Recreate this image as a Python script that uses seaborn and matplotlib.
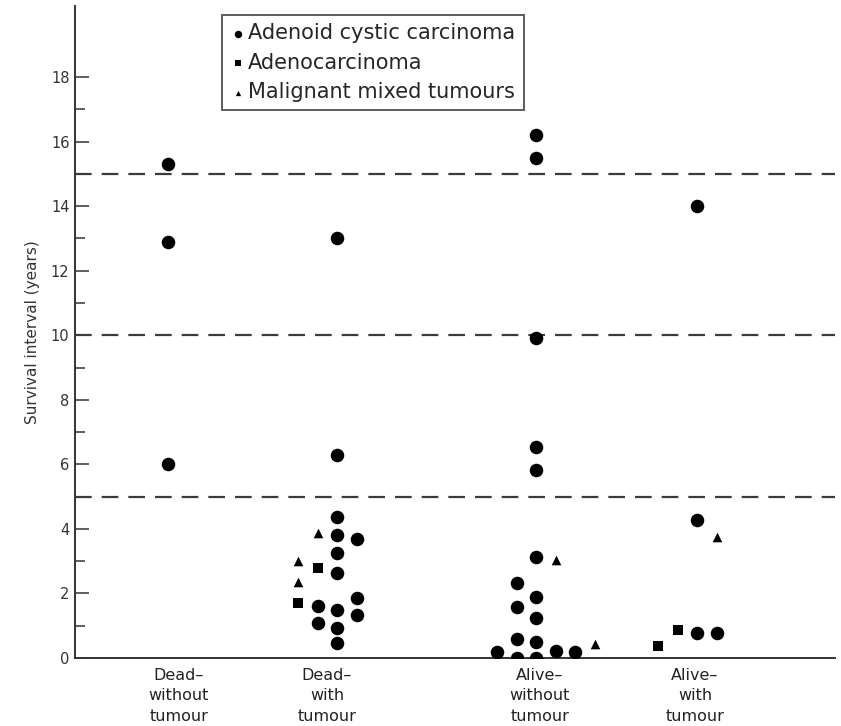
import pandas as pd
import matplotlib.pyplot as plt
import seaborn as sns

# -------------------------
# 1. Data
# -------------------------
group_labels = ["Dead\u2013\nwithout\ntumour", "Dead\u2013\nwith\ntumour",
                "Alive\u2013\nwithout\ntumour", "Alive\u2013\nwith\ntumour"]
type_names = ["Adenoid cystic carcinoma", "Adenocarcinoma", "Malignant mixed tumours"]

# one list per group: tumour type code, dot column inside the group, survival (years)
dead_without_type = ["A", "A", "A"]
dead_without_col = [0, 0, 0]
dead_without_years = [15.3, 12.9, 6.0]

dead_with_type = ["A", "A", "A", "A", "A", "A", "A", "A", "A",
                  "A", "A", "A", "A", "A",
                  "M", "M", "M", "C", "C"]
dead_with_col = [2, 2, 2, 2, 2, 2, 2, 2, 2,
                 3, 3, 3, 1, 1,
                 1, 0, 0, 1, 0]
dead_with_years = [13.0, 6.3, 4.37, 3.81, 3.24, 2.64, 1.49, 0.94, 0.46,
                   3.70, 1.85, 1.33, 1.61, 1.07,
                   3.86, 3.00, 2.36, 2.78, 1.69]

alive_without_type = ["A", "A", "A", "A", "A",
                      "A", "A", "A", "A", "A", "A", "A", "A", "A", "A",
                      "A", "A", "M", "M"]
alive_without_col = [0, 1, 1, 1, 1,
                     2, 2, 2, 2, 2, 2, 2, 2, 2, 2,
                     3, 4, 3, 5]
alive_without_years = [0.2, 2.31, 1.59, 0.58, 0.0,
                       16.2, 15.5, 9.9, 6.54, 5.84, 3.14, 1.90, 1.23, 0.5, 0.0,
                       0.23, 0.18, 3.03, 0.43]

alive_with_type = ["C", "C", "A", "A", "A", "A", "M"]
alive_with_col = [0, 1, 2, 2, 2, 3, 3]
alive_with_years = [0.38, 0.87, 0.78, 4.27, 14.0, 0.76, 3.76]

cut_lines = [5, 10, 15]

# -------------------------
# 2. Build table
# -------------------------
frames = []
for g, (t, c, y) in enumerate([(dead_without_type, dead_without_col, dead_without_years),
                               (dead_with_type, dead_with_col, dead_with_years),
                               (alive_without_type, alive_without_col, alive_without_years),
                               (alive_with_type, alive_with_col, alive_with_years)]):
    frames.append(pd.DataFrame({"group": g, "type": t, "col": c, "years": y}))
df = pd.concat(frames, ignore_index=True)

# layout: x of column 0 for each group, and where the group labels sit
group_x0 = [4.65, 11.15, 21.1, 29.15]
label_x = [5.2, 12.6, 23.25, 31.0]
col_step = 0.98
df["x"] = [group_x0[g] + c * col_step for g, c in zip(df["group"], df["col"])]

codes = {"A": type_names[0], "C": type_names[1], "M": type_names[2]}
df["type"] = df["type"].map(codes)

# -------------------------
# 3. Plot
# -------------------------
sns.set_style("ticks")
plt.rcParams["font.family"] = ["DejaVu Sans"]

fig = plt.figure(figsize=(8.41, 7.26), dpi=100)
ax = fig.add_axes([75 / 841, 68 / 726, 760 / 841, 652 / 726])

for y in cut_lines:
    ax.axhline(y, color="#3a3a3a", lw=1.6, dashes=(7.5, 4.5), zorder=1)

markers = {type_names[0]: "o", type_names[1]: "s", type_names[2]: "^"}
sizes = {type_names[0]: 95, type_names[1]: 55, type_names[2]: 48}
for name in type_names:
    sub = df[df["type"] == name]
    sns.scatterplot(data=sub, x="x", y="years", marker=markers[name], s=sizes[name],
                    color="black", edgecolor="black", linewidth=0, ax=ax, zorder=3,
                    label=name)

ax.set_xlim(0, 38)
ax.set_ylim(0, 20.2)
ax.set_yticks(range(0, 19, 2))
ax.set_yticks(range(1, 18, 2), minor=True)
ax.set_xticks(label_x)
ax.set_xticklabels(group_labels, fontsize=11.5, linespacing=1.45, color="#222222")
ax.tick_params(axis="x", length=0, pad=7)
ax.tick_params(axis="y", which="major", direction="in", length=10, width=1.1,
               labelsize=10.5, colors="#333333", pad=4)
ax.tick_params(axis="y", which="minor", direction="in", length=7, width=1.1, colors="#333333")
ax.set_xlabel("")
ax.set_ylabel("Survival interval (years)", fontsize=11, color="#333333", labelpad=8)

for side in ["top", "right"]:
    ax.spines[side].set_visible(False)
for side in ["left", "bottom"]:
    ax.spines[side].set_linewidth(1.4)
    ax.spines[side].set_color("#333333")

leg = ax.legend(loc="upper left", bbox_to_anchor=((222 - 75) / 760, (658 - 15) / 652),
                borderaxespad=0, fancybox=False, frameon=True, fontsize=15,
                handletextpad=0.15, handlelength=0.7, markerscale=0.55,
                labelspacing=0.45, borderpad=0.4)
leg.get_frame().set_edgecolor("#333333")
leg.get_frame().set_linewidth(1.4)

plt.savefig("out.png", dpi=100)
